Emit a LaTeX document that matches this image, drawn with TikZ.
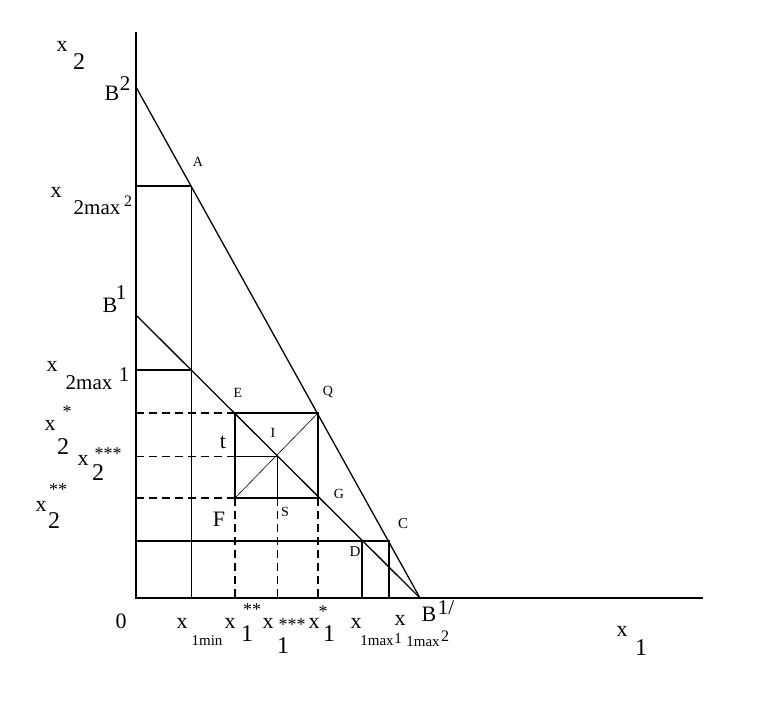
\documentclass[tikz,border=0pt]{standalone}
\usepackage{fontspec}
\setmainfont{Liberation Serif}
\begin{document}
\begin{tikzpicture}[x=1pt,y=-1pt,
  axisline/.style={line width=2.2pt},
  thk/.style={line width=1.8pt},
  thn/.style={line width=0.9pt},
  dsh/.style={dash pattern=on 8pt off 5pt},
  lbl/.style={inner sep=0pt, font=\fontsize{22}{22}\selectfont},
  big/.style={inner sep=0pt, font=\fontsize{24}{24}\selectfont},
  mid/.style={inner sep=0pt, font=\fontsize{21}{21}\selectfont},
  sml/.style={inner sep=0pt, font=\fontsize{15}{15}\selectfont},
  sup/.style={inner sep=0pt, font=\fontsize{16}{16}\selectfont},
  pt/.style={inner sep=0pt, font=\fontsize{14}{14}\selectfont},
  ast/.style={inner sep=0pt, font=\fontsize{18}{18}\selectfont}]
\useasboundingbox (0,0) rectangle (772,704);
% key points
\coordinate (O) at (136,598);
\coordinate (Ytop) at (136,32);
\coordinate (Xend) at (703,598);
\coordinate (B2) at (136,87);
\coordinate (B1) at (136,315);
\coordinate (Bend) at (420,598);
\coordinate (A) at (191,186);
\coordinate (H2) at (136,186);
\coordinate (A0) at (191,598);
\coordinate (H1) at (136,370);
\coordinate (K) at (191,370);
\coordinate (E) at (235,413);
\coordinate (Q) at (318,413);
\coordinate (F) at (235,498);
\coordinate (G) at (318,498);
\coordinate (I) at (277,456);
\coordinate (It) at (235,456);
\coordinate (S) at (277,498);
\coordinate (Ey) at (136,413);
\coordinate (Iy) at (136,456);
\coordinate (Fy) at (136,498);
\coordinate (Fx) at (235,598);
\coordinate (Sx) at (277,598);
\coordinate (Gx) at (318,598);
\coordinate (Cy) at (136,541);
\coordinate (D) at (362,541);
\coordinate (C) at (389,541);
\coordinate (Dx) at (362,598);
\coordinate (Cx) at (389,598);
% axes
\draw[axisline] (Ytop) -- (O) -- (Xend);
% budget lines
\draw[line width=1.3pt] (B2) -- (Bend);
\draw[line width=1.3pt] (B1) -- (Bend);
% A
\draw[thk] (H2) -- (A);
\draw[thn] (A) -- (A0);
\draw[thk] (H1) -- (K);
% square
\draw[thk, dsh] (Ey) -- (E);
\draw[thk] (E) -- (Q) -- (G) -- (F) -- cycle;
\draw[thn, dsh] (Iy) -- (It);
\draw[thn] (It) -- (I) -- (S);
\draw[thk, dsh] (Fy) -- (F);
\draw[thk, dsh] (F) -- (Fx);
\draw[thk, dsh] (G) -- (Gx);
\draw[thn, dsh] (S) -- (Sx);
\draw[line width=0.6pt] (F) -- (Q);
% C D
\draw[thk] (Cy) -- (C) -- (Cx);
\draw[thk] (D) -- (Dx);
% labels left
\node[lbl] (lx2) at (62,46) {x};
\node[big] (lx2s) at (79,62) {2};
\node[lbl] (lB2) at (112,93) {B};
\node[mid] (lB2s) at (125,84) {2};
\node[pt] (lA) at (198,162) {A};
\node[lbl] (lxm2) at (56,192) {x};
\node[mid] (lxm2s) at (97,208) {2max};
\node[sup] (lxm2t) at (128,201) {2};
\node[lbl] (lB1) at (110,305) {B};
\node[mid] (lB1s) at (121,293) {1};
\node[lbl] (lxm1) at (52,366) {x};
\node[mid] (lxm1s) at (89,383) {2max};
\node[mid] (lxm1t) at (124,375) {1};
\node[lbl] (lxs) at (50,425) {x};
\node[ast] (lxss) at (67,412) {*};
\node[big] (lxs2) at (63,447) {2};
\node[lbl] (lxt) at (83,460) {x};
\node[ast] (lxts) at (108,454) {***};
\node[big] (lxt2) at (98,473) {2};
\node[lbl] (lxd) at (41,506) {x};
\node[ast] (lxds) at (58,490) {**};
\node[big] (lxd2) at (54,521) {2};
% square labels
\node[pt] (lE) at (238,393) {E};
\node[pt] (lQ) at (328,392) {Q};
\node[pt] (lI) at (273,433) {I};
\node[lbl] (lt) at (223,442) {t};
\node[pt] (lG) at (339,494) {G};
\node[lbl] (lF) at (219,519) {F};
\node[pt] (lS) at (285,512) {S};
\node[sml] (lC) at (403,524) {C};
\node[sml] (lD) at (355,552) {D};
% bottom labels
\node[lbl] (l0) at (121,621) {0};
\node[lbl] (lx1m) at (182,623) {x};
\node[sml] (lx1ms) at (207,641) {1min};
\node[lbl] (lx1d) at (230,623) {x};
\node[ast] (lx1ds) at (252,610) {**};
\node[big] (lx1d1) at (247,634) {1};
\node[lbl] (lx1t) at (268,623) {x};
\node[ast] (lx1ts) at (292,625) {***};
\node[big] (lx1t1) at (283,646) {1};
\node[lbl] (lx1s) at (314,623) {x};
\node[ast] (lx1ss) at (323,612) {*};
\node[big] (lx1s1) at (329,634) {1};
\node[lbl] (lx1a) at (356,623) {x};
\node[sml] (lx1as) at (377,641) {1max};
\node[sml] (lx1at) at (398,639) {1};
\node[lbl] (lx1b) at (400,620) {x};
\node[sml] (lx1bs) at (423,642) {1max};
\node[sup] (lx1bt) at (445,636) {2};
\node[lbl] (lBe) at (429,614) {B};
\node[mid] (lBes) at (446,608) {1/};
\node[lbl] (lx1) at (622,631) {x};
\node[big] (lx11) at (641,648) {1};
\end{tikzpicture}
\end{document}
